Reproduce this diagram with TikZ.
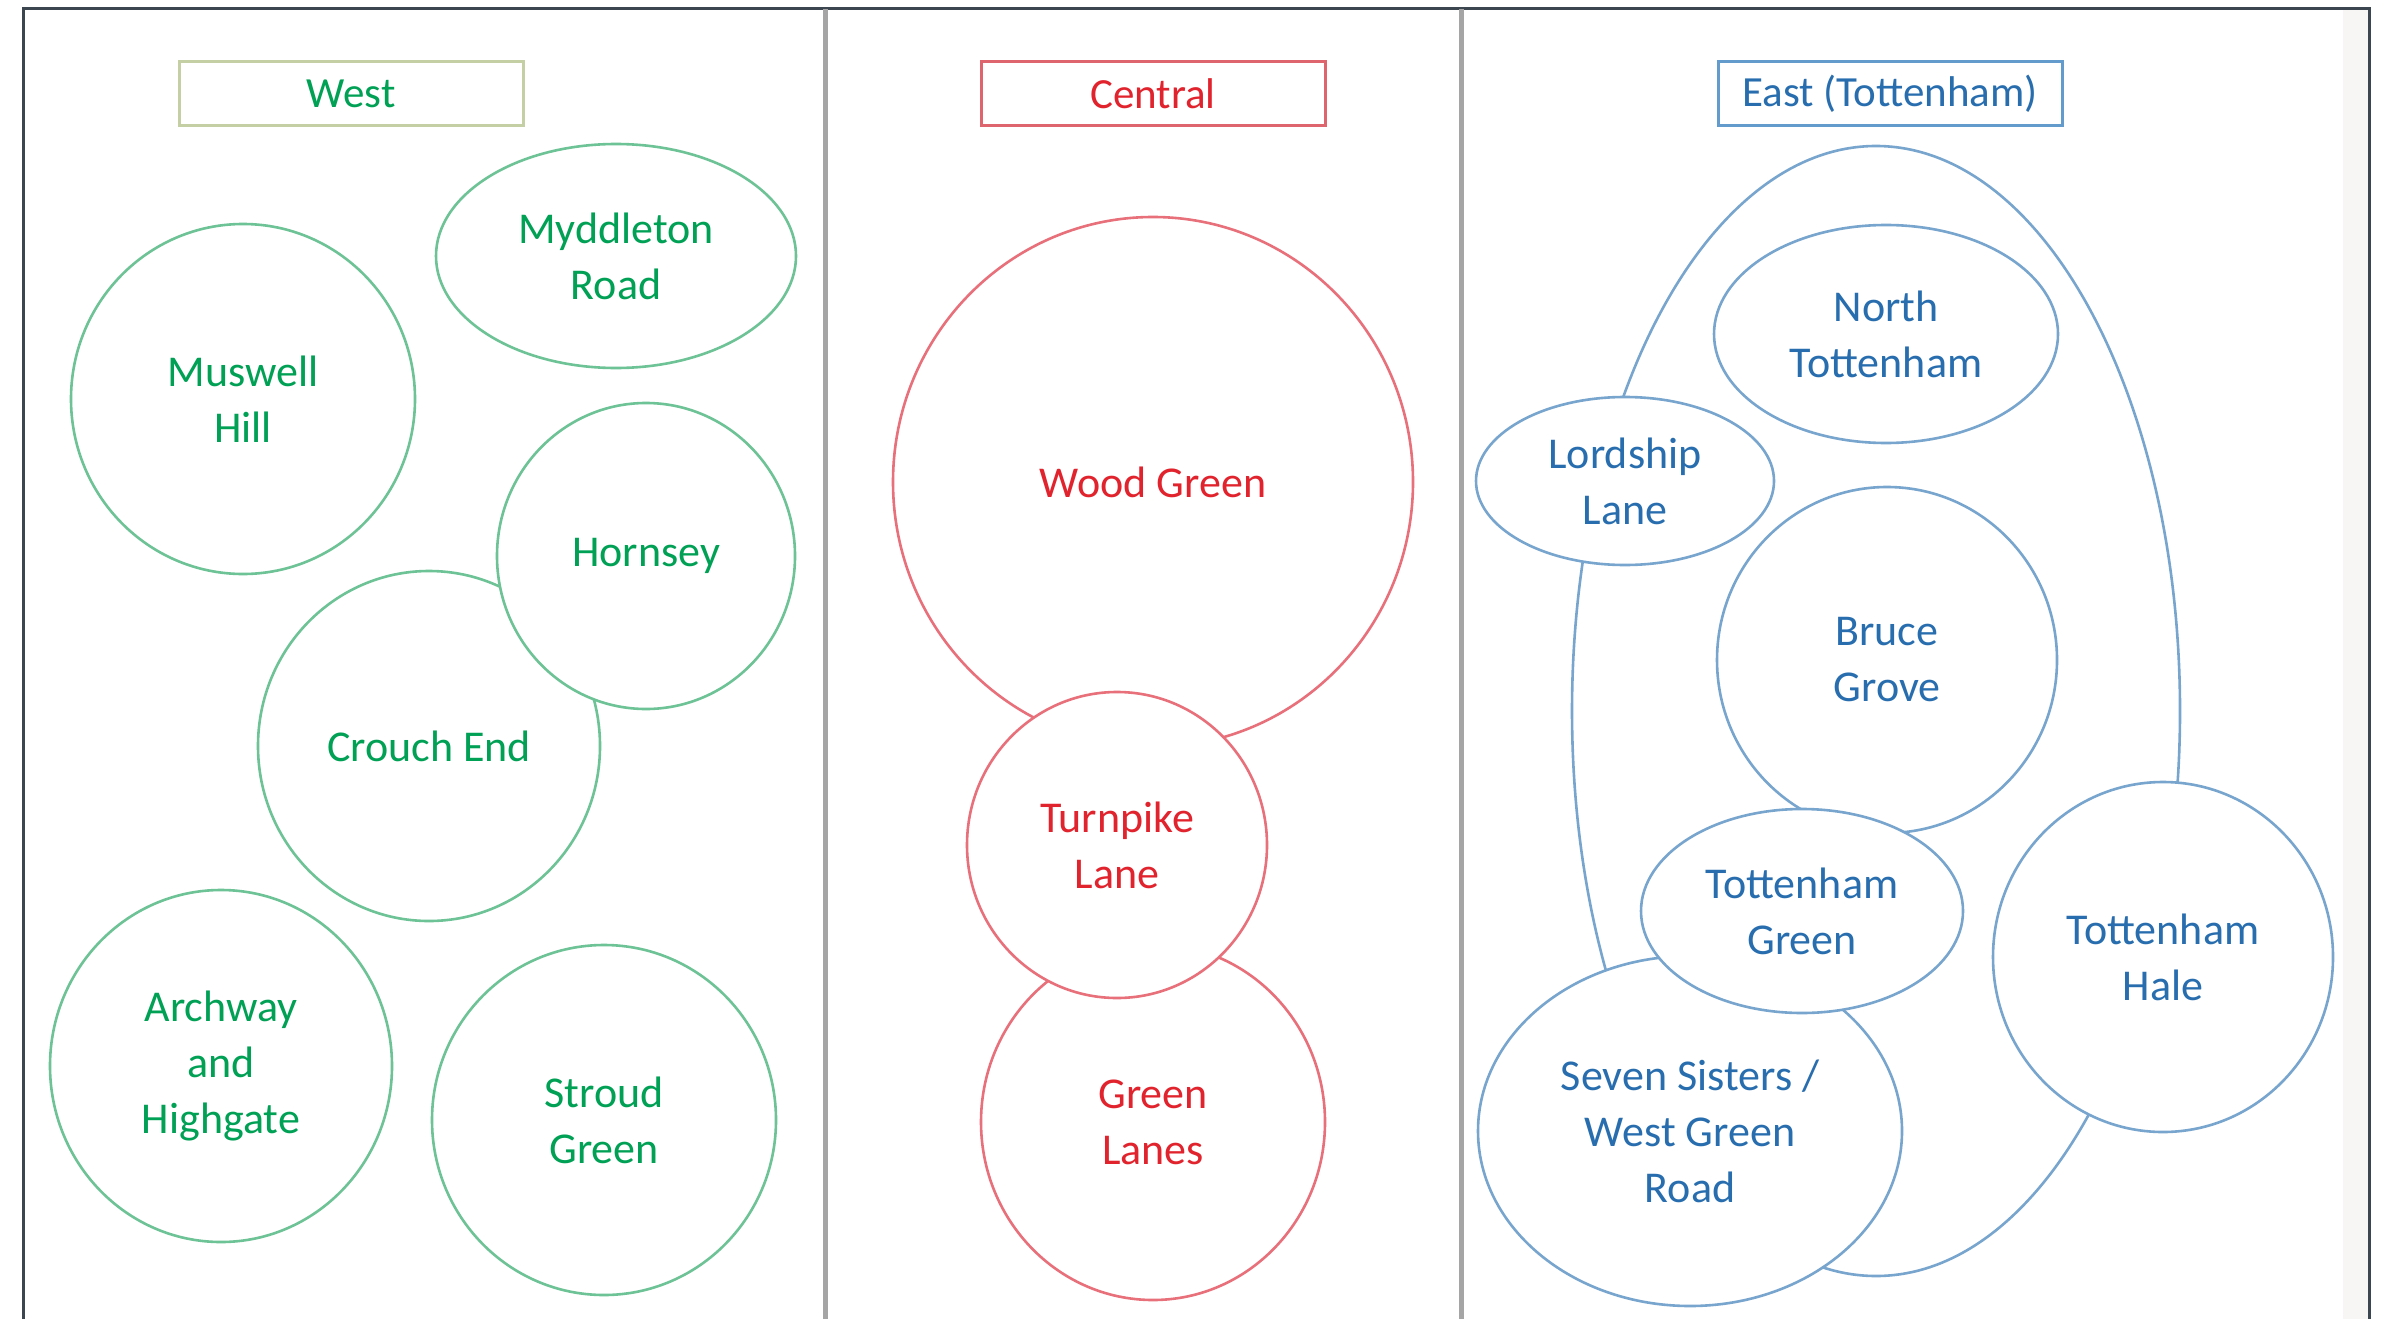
\documentclass[tikz,border=0pt]{standalone}
\usepackage{fontspec}
\setmainfont{Carlito}
\usetikzlibrary{shapes.geometric}
\definecolor{gtext}{RGB}{0,160,85}
\definecolor{gline}{RGB}{110,195,150}
\definecolor{gbox}{RGB}{196,208,164}
\definecolor{rtext}{RGB}{225,35,45}
\definecolor{rline}{RGB}{232,112,122}
\definecolor{rbox}{RGB}{222,100,110}
\definecolor{btext}{RGB}{40,110,175}
\definecolor{bline}{RGB}{120,165,205}
\definecolor{bbox}{RGB}{100,155,205}
\definecolor{framec}{RGB}{60,70,80}
\definecolor{divc}{RGB}{165,165,165}
\definecolor{stripc}{RGB}{247,246,245}
\tikzset{
  region/.style={ellipse, inner sep=0pt, fill=white, line width=2.6pt, align=center,
    font=\fontsize{44}{56}\selectfont},
  sz/.style n args={2}{minimum width=#1pt, minimum height=#2pt},
  westc/.style={region, draw=gline, text=gtext},
  centc/.style={region, draw=rline, text=rtext},
  eastc/.style={region, draw=bline, text=btext},
  titlebox/.style={rectangle, inner sep=0pt, minimum width=344pt, minimum height=64pt,
    line width=3pt, fill=white, font=\fontsize{43}{52}\selectfont},
  divider/.style={draw=divc, line width=5pt},
  framel/.style={draw=framec, line width=3pt}
}
\begin{document}
\begin{tikzpicture}[x=1pt,y=-1pt]
\useasboundingbox (0,0) rectangle (2382,1319);
\fill[white] (0,0) rectangle (2382,1319);
% frame
\fill[stripc] (2343,9) rectangle (2368,1319);
\coordinate (tl) at (23,9);
\coordinate (tr) at (2369,9);
\coordinate (bl) at (23,1319);
\coordinate (br) at (2369,1319);
\draw[framel] (bl) -- (tl) -- (tr) -- (br);
\coordinate (d1t) at (825,9);
\coordinate (d1b) at (825,1319);
\coordinate (d2t) at (1461,9);
\coordinate (d2b) at (1461,1319);
\draw[divider] (d1t) -- (d1b);
\draw[divider] (d2t) -- (d2b);

% West
\node[titlebox, draw=gbox, text=gtext] (westtitle) at (351,94) {West};
\node[westc, sz={344}{350}] (muswell) at (243,399) {Muswell\\Hill};
\node[westc, sz={360}{224}] (myddleton) at (616,256) {Myddleton\\Road};
\node[westc, sz={342}{350}] (crouch) at (429,746) {Crouch End};
\node[westc, sz={298}{306}] (hornsey) at (646,556) {Hornsey};
\node[westc, sz={342}{352}] (archway) at (221,1066) {Archway\\and\\Highgate};
\node[westc, sz={344}{350}] (stroud) at (604,1120) {Stroud\\Green};

% Central
\node[titlebox, draw=rbox, text=rtext] (centraltitle) at (1153,94) {Central};
\node[centc, sz={520}{530}] (woodgreen) at (1153,482) {Wood Green};
\node[centc, sz={344}{356}] (greenlanes) at (1153,1122) {Green\\Lanes};
\node[centc, sz={300}{306}] (turnpike) at (1117,845) {Turnpike\\Lane};

% East
\node[titlebox, draw=bbox, text=btext] (easttitle) at (1890,94) {East (Tottenham)};
\node[eastc, sz={608}{1130}] (eastzone) at (1876,711) {};
\node[eastc, sz={344}{218}] (northtot) at (1886,334) {North\\Tottenham};
\node[eastc, sz={298}{168}] (lordship) at (1625,481) {Lordship\\Lane};
\node[eastc, sz={340}{346}] (bruce) at (1887,660) {Bruce\\Grove};
\node[eastc, sz={424}{350}] (sevensis) at (1690,1131) {Seven Sisters /\\West Green\\Road};
\node[eastc, sz={322}{204}] (totgreen) at (1802,911) {Tottenham\\Green};
\node[eastc, sz={340}{350}] (hale) at (2163,957) {Tottenham\\Hale};
\end{tikzpicture}
\end{document}
